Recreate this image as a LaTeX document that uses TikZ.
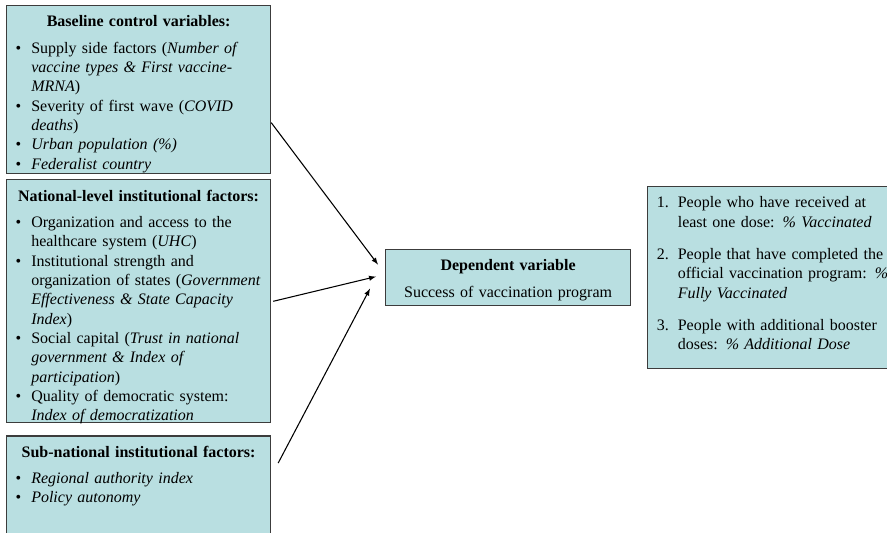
\documentclass[tikz,border=0pt]{standalone}
\usepackage{fontspec}
\setmainfont{Liberation Serif}
\usetikzlibrary{positioning}

\definecolor{boxfill}{RGB}{185,223,225}
\definecolor{boxline}{RGB}{60,60,60}

\hyphenpenalty=10000
\newcommand{\boxtitle}[1]{{\centering\bfseries #1\par}\vspace{5.2pt}}
\newcommand{\bul}{\par\hangindent=14.5pt\hangafter=1\noindent\makebox[14.5pt][l]{\hspace{2.8pt}\textbullet}}
\newcommand{\num}[1]{\hangindent=18.5pt\hangafter=1\noindent\makebox[18.5pt][l]{\hspace{2.8pt}#1.}}

\begin{document}
\begin{tikzpicture}[x=0.75pt, y=-0.75pt]
		\tikzstyle{box}=[rectangle, draw=boxline, line width=0.9pt, fill=boxfill, align=left,
			inner xsep=4pt, inner ysep=6pt, text height=10pt,
			font=\fontsize{12}{14.5}\selectfont]
		\tikzstyle{every node}=[box]

		\useasboundingbox (0,0) rectangle (887,532);

		\node[anchor=north west, text width=190pt, text depth=104pt] (base) at (6,5) {
			\boxtitle{Baseline control variables:}
			\bul Supply side factors (\textit{Number of}\newline \textit{vaccine types \& First vaccine-}\newline \textit{MRNA})
			\bul Severity of first wave (\textit{COVID}\newline \textit{deaths})
			\bul \textit{Urban population (\%)}
			\bul \textit{Federalist country}\par
		};

		\node[below=3.75pt of base, text width=190pt, text depth=160.25pt] (natl) {
			\boxtitle{National-level institutional factors:}
			\bul Organization and access to the\newline healthcare system (\textit{UHC})
			\bul Institutional strength and\newline organization of states~(\textit{Government}\newline \textit{Effectiveness \& State Capacity}\newline \textit{Index})
			\bul Social capital (\textit{Trust in national}\newline \textit{government \& Index of}\newline \textit{participation})
			\bul Quality of democratic system:\newline \textit{Index of democratization}\par
		};

		\node[below=9pt of natl, text width=190pt, text depth=62pt] (subnat) {
			\boxtitle{Sub-national institutional factors:}
			\bul \textit{Regional authority index}
			\bul \textit{Policy autonomy}\par
		};

		\node[anchor=north west, align=center, text width=175.75pt, text depth=20pt] (dep) at (385,249) {
			\textbf{Dependent variable}\\[5.5pt]
			Success of vaccination program
		};

		\node[right=12pt of dep, text width=179.5pt, text depth=114.5pt] (outcome) {
			\num{1}People who have received at\newline least one dose: \textit{\% Vaccinated}\par\vspace{9.75pt}
			\num{2}People that have completed the\newline official vaccination program: \textit{\%}\newline \textit{Fully Vaccinated}\par\vspace{9.75pt}
			\num{3}People with additional booster\newline doses: \textit{\% Additional Dose}\par
		};

		\draw[->, thick, >=latex] ([yshift=-24.75pt]base.east) -- ([xshift=-5.25pt, yshift=9.75pt]dep.west);
		\draw[->, thick, >=latex] ([xshift=1.5pt]natl.east) -- ([xshift=-6.75pt, yshift=0.75pt]dep.west);
		\draw[->, thick, >=latex] ([xshift=5.25pt, yshift=21.75pt]subnat.east) -- ([xshift=-11.25pt, yshift=-8.25pt]dep.west);

	\end{tikzpicture}
\end{document}
